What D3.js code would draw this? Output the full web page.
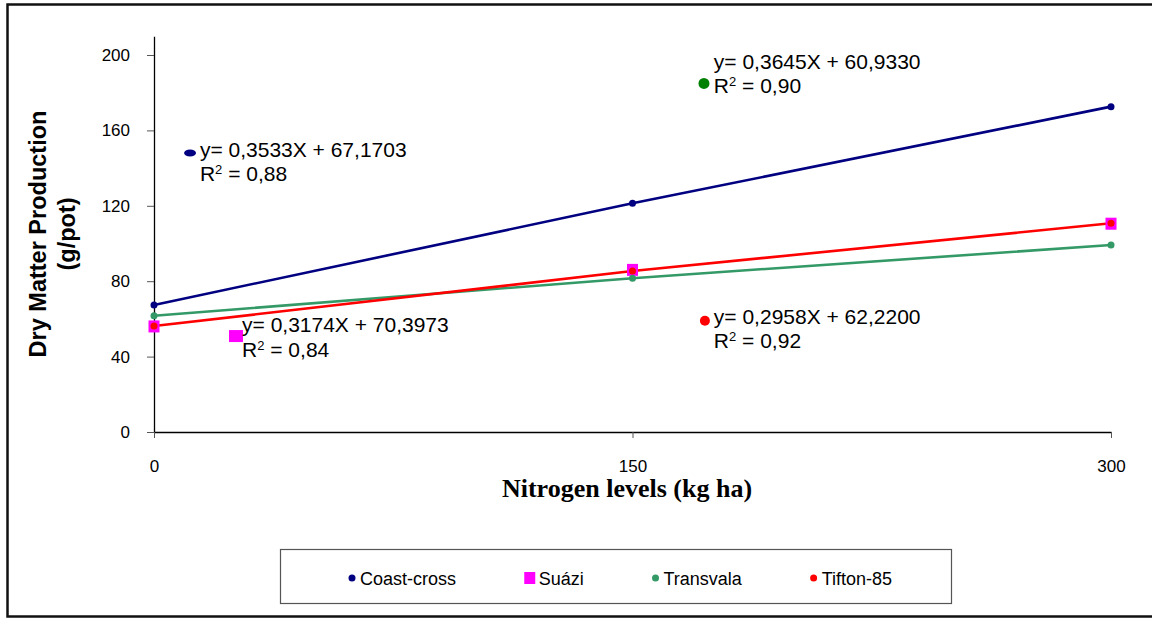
<!DOCTYPE html>
<html>
<head>
<meta charset="utf-8">
<script src="https://cdn.jsdelivr.net/npm/d3@7/dist/d3.min.js"></script>
<style>
  html, body { margin: 0; padding: 0; background: #fff; }
  svg { display: block; }
</style>
</head>
<body>
<svg id="chart" width="1152" height="618"></svg>
<script>
// ---- data ----
const nitrogenLevels = [0, 150, 300];
const seriesNames = ["Coast-cross", "Suázi", "Transvala", "Tifton-85"];
const coastCross = [67.4, 121.3, 172.6];
const suazi = [56.0, 86.0, 110.5];
const transvala = [61.7, 81.6, 99.2];
const tifton85 = [56.2, 85.4, 110.7];
const yTicks = [0, 40, 80, 120, 160, 200];
const xTicks = [0, 150, 300];
const eqLabels = ["y= 0,3533X + 67,1703", "y= 0,3174X + 70,3973", "y= 0,3645X + 60,9330", "y= 0,2958X + 62,2200"];
const r2Labels = ["0,88", "0,84", "0,90", "0,92"];
// annotation marker and label anchors, in data units (nitrogen, production)
const annMarkerX = [11.3, 25.7, 172.4, 172.7];
const annMarkerY = [148.0, 50.9, 184.9, 59.0];
const annLabelX = [14.4, 27.6, 175.5, 175.5];
const annLabelY = [145.9, 53.0, 192.6, 57.3];

const svg = d3.select("#chart");
const x = d3.scaleLinear().domain([0, 300]).range([154, 1111]);
const y = d3.scaleLinear().domain([0, 210]).range([432, 36.15]);

const colors = { "Coast-cross": "#000080", "Suázi": "#FF00FF", "Transvala": "#339966", "Tifton-85": "#FF0000" };
const annColors = ["#000080", "#FF00FF", "#008000", "#FF0000"];
const sans = "Liberation Sans, Arial, sans-serif";

// outer frame
svg.append("rect").attr("x", 7.5).attr("y", 4.5).attr("width", 1160).attr("height", 612)
  .attr("fill", "none").attr("stroke", "#111").attr("stroke-width", 2.5);

// axes
const yAxis = d3.axisLeft(y).tickValues(yTicks).tickSize(7).tickSizeOuter(0).tickPadding(17).tickFormat(d3.format("d"));
const gy = svg.append("g").attr("transform", `translate(${x(0)},0)`).call(yAxis);
const xAxis = d3.axisBottom(x).tickValues(xTicks).tickSize(6).tickSizeOuter(0).tickPadding(22).tickFormat(d3.format("d"));
const gx = svg.append("g").attr("transform", `translate(0,${y(0)})`).call(xAxis);
[gx, gy].forEach(g => {
  g.select(".domain").attr("stroke", "#000").attr("stroke-width", 1.3);
  g.selectAll(".tick line").attr("stroke", "#555").attr("stroke-width", 1);
  g.selectAll(".tick text").attr("font-family", sans).attr("font-size", 17).attr("fill", "#000");
});

// axis titles
const yt = svg.append("g").attr("font-family", sans).attr("font-weight", "bold")
  .attr("font-size", 23.5).attr("text-anchor", "middle").attr("fill", "#000");
yt.append("text").attr("transform", "translate(46,234) rotate(-90)").text("Dry Matter Production");
yt.append("text").attr("transform", "translate(75,234) rotate(-90)").text("(g/pot)");
svg.append("text").attr("x", 627).attr("y", 497).attr("text-anchor", "middle")
  .attr("font-family", "Liberation Serif, Times New Roman, serif").attr("font-weight", "bold").attr("font-size", 26)
  .attr("fill", "#000").text("Nitrogen levels (kg ha)");

// series
const seriesData = [coastCross, suazi, transvala, tifton85].map((vals, i) => ({
  name: seriesNames[i],
  points: nitrogenLevels.map((n, j) => ({ n: n, v: vals[j] }))
}));
const line = d3.line().x(d => x(d.n)).y(d => y(d.v));

seriesData.forEach(s => {
  if (s.name !== "Suázi") {
    svg.append("path").datum(s.points).attr("d", line).attr("fill", "none")
      .attr("stroke", colors[s.name]).attr("stroke-width", 2.6);
  }
});
seriesData.forEach(s => {
  if (s.name === "Suázi") {
    svg.append("g").selectAll("rect").data(s.points).join("rect")
      .attr("x", d => x(d.n) - 5.5).attr("y", d => y(d.v) - 6)
      .attr("width", 11).attr("height", 12).attr("fill", colors[s.name]);
  }
});
seriesData.forEach(s => {
  if (s.name !== "Suázi") {
    svg.append("g").selectAll("circle").data(s.points).join("circle")
      .attr("cx", d => x(d.n)).attr("cy", d => y(d.v)).attr("r", 3.5).attr("fill", colors[s.name]);
  }
});

// annotations (equations)
const ann = svg.append("g").attr("font-family", sans).attr("font-size", 21).attr("fill", "#000");
eqLabels.forEach((eq, i) => {
  const mx = x(annMarkerX[i]), my = y(annMarkerY[i]);
  if (i === 0) {
    ann.append("ellipse").attr("cx", mx).attr("cy", my).attr("rx", 6).attr("ry", 3.5).attr("fill", annColors[i]);
  } else if (i === 1) {
    ann.append("rect").attr("x", mx - 7).attr("y", my - 6).attr("width", 14).attr("height", 12).attr("fill", annColors[i]);
  } else {
    ann.append("circle").attr("cx", mx).attr("cy", my).attr("r", i === 2 ? 5.5 : 5).attr("fill", annColors[i]);
  }
  const lx = x(annLabelX[i]), ly = y(annLabelY[i]);
  ann.append("text").attr("x", lx).attr("y", ly).text(eq);
  const t2 = ann.append("text").attr("x", lx).attr("y", ly + 24.5);
  t2.append("tspan").text("R");
  t2.append("tspan").attr("font-size", 13).attr("dy", -7).text("2");
  t2.append("tspan").attr("dy", 7).text(" = " + r2Labels[i]);
});

// legend: entries laid out with equal gaps between them
const lg = svg.append("g").attr("font-family", sans).attr("font-size", 18);
lg.append("rect").attr("x", 280.5).attr("y", 549.5).attr("width", 671).attr("height", 54)
  .attr("fill", "#fff").attr("stroke", "#555").attr("stroke-width", 1.2);
const entries = seriesNames.map(name => {
  const g = lg.append("g");
  if (name === "Suázi") {
    g.append("rect").attr("x", -5.5).attr("y", -6).attr("width", 11).attr("height", 12).attr("fill", colors[name]);
  } else {
    g.append("circle").attr("r", 3.5).attr("fill", colors[name]);
  }
  const t = g.append("text").attr("x", name === "Suázi" ? 9 : 8).attr("y", 7).attr("fill", "#000").text(name);
  const w = t.node().getComputedTextLength() + (name === "Suázi" ? 14.5 : 11.5);
  return { g, w };
});
const startX = 348.5, endX = 892;
const totalW = d3.sum(entries, e => e.w);
const gap = (endX - startX - totalW) / (entries.length - 1);
let cursor = startX;
entries.forEach((e, i) => {
  const half = seriesNames[i] === "Suázi" ? 5.5 : 3.5;
  e.g.attr("transform", `translate(${cursor + half},578)`);
  cursor += e.w + gap;
});
</script>
</body>
</html>
